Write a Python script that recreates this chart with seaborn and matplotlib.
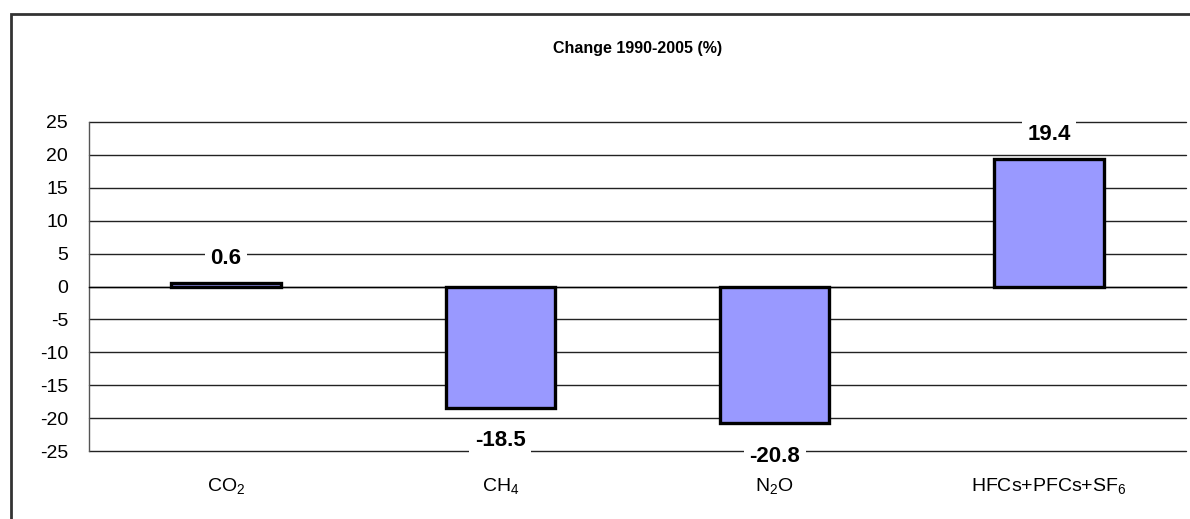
import matplotlib
matplotlib.use("Agg")
import matplotlib.pyplot as plt
import seaborn as sns
import pandas as pd
from matplotlib.patches import Rectangle

# ---- data ----
categories = [r"$\mathregular{CO_2}$", r"$\mathregular{CH_4}$",
              r"$\mathregular{N_2O}$", r"$\mathregular{HFCs{+}PFCs{+}SF_6}$"]
values = [0.6, -18.5, -20.8, 19.4]
value_labels = ["0.6", "-18.5", "-20.8", "19.4"]
y_ticks = [25, 20, 15, 10, 5, 0, -5, -10, -15, -20, -25]
title = "Change 1990-2005 (%)"

sns.set_style("white")
plt.rcParams["font.family"] = ["Liberation Sans", "DejaVu Sans"]
plt.rcParams["mathtext.fontset"] = "custom"
plt.rcParams["mathtext.rm"] = "Liberation Sans"
for k in ("text.color", "axes.labelcolor", "xtick.labelcolor", "ytick.labelcolor"):
    plt.rcParams[k] = "black"

fig = plt.figure(figsize=(11.9, 5.19), dpi=100)
ax = fig.add_axes([89 / 1190, 1 - 451 / 519, (1186 - 89) / 1190, (451 - 122) / 519])

df = pd.DataFrame({"gas": list(range(len(categories))), "change": values})
sns.barplot(data=df, x="gas", y="change", color="#9999FF", saturation=1,
            edgecolor="black", linewidth=2.4, width=0.4, ax=ax, zorder=3,
            native_scale=True)

ax.set_xlim(-0.5, len(categories) - 0.5)
ax.set_ylim(-25, 25)
ax.set_yticks(y_ticks)
ax.set_yticklabels([str(t) for t in y_ticks])
ax.yaxis.grid(True, color="#222222", linewidth=1)
ax.xaxis.grid(False)
ax.set_axisbelow(True)
ax.set_xlabel("")
ax.set_ylabel("")
for gl in ax.get_ygridlines():
    gl.set_clip_on(False)

for s in ("top", "right"):
    ax.spines[s].set_visible(False)
ax.spines["left"].set_color("#555555")
ax.spines["left"].set_linewidth(1)
ax.spines["bottom"].set_position(("data", 0))
ax.spines["bottom"].set_color("black")
ax.spines["bottom"].set_linewidth(1)

bounds = [i - 0.5 for i in range(len(categories) + 1)]
ax.set_xticks(bounds)
ax.set_xticklabels([""] * len(bounds))
ax.tick_params(axis="x", direction="out", length=5, width=1, color="#555555")
ax.tick_params(axis="y", direction="out", length=5, width=1, color="#555555",
               labelsize=14, pad=10, labelcolor="black")

sec = ax.secondary_xaxis(0.0)
sec.set_xticks(list(range(len(categories))))
sec.set_xticklabels(categories)
sec.tick_params(length=0, pad=18, labelsize=14, labelcolor="black")
sec.spines["bottom"].set_visible(False)

pos_labels = [l if v >= 0 else "" for l, v in zip(value_labels, values)]
neg_labels = [l if v < 0 else "" for l, v in zip(value_labels, values)]
bbox = dict(facecolor="white", edgecolor="none", pad=4)
labs = ax.bar_label(ax.containers[0], labels=pos_labels, padding=10,
                    fontsize=16, fontweight="bold", color="black", bbox=bbox)
labs += ax.bar_label(ax.containers[0], labels=neg_labels, padding=16,
                     fontsize=16, fontweight="bold", color="black", bbox=bbox)
for t in labs:
    t.set_zorder(6)
    if not t.get_text():
        t.set_visible(False)

fig.text((89 + 1186) / 2 / 1190, 1 - 48 / 519, title, ha="center", va="center",
         fontsize=11.5, fontweight="bold", color="black")

fig.patches.append(Rectangle((11 / 1190, -0.2), 1.5, 1.2 - 14 / 519,
                             transform=fig.transFigure, fill=False,
                             edgecolor="#333333", linewidth=2))

fig.savefig("out.png", dpi=100)
